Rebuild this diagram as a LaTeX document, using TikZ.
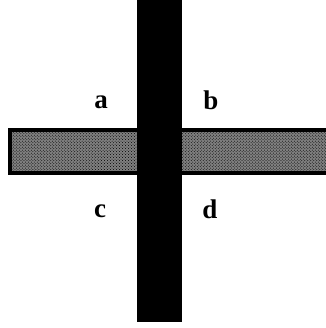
\documentclass[tikz,border=0pt]{standalone}
\usepackage{fontspec}
\setmainfont{Liberation Serif}
\usetikzlibrary{patterns}
\begin{document}
\begin{tikzpicture}[x=1bp,y=-1bp,every node/.style={font=\bfseries\fontsize{27bp}{30bp}\selectfont,inner sep=0pt},
  crossbar/.style={draw=black,line width=3.5bp,fill=black!50,postaction={pattern=crosshatch dots}},
  postbar/.style={fill=black}]
\useasboundingbox (0,0) rectangle (326,328);
\clip (0,0) rectangle (326,328);
\fill[white] (0,0) rectangle (326,328);
\draw[crossbar] (10,130) rectangle (340,173);
\fill[postbar] (137,0) rectangle (182,322);
\node (a) at (101,102) {a};
\node (b) at (211,100) {b};
\node (c) at (100,211) {c};
\node (d) at (210,209) {d};
\end{tikzpicture}
\end{document}
